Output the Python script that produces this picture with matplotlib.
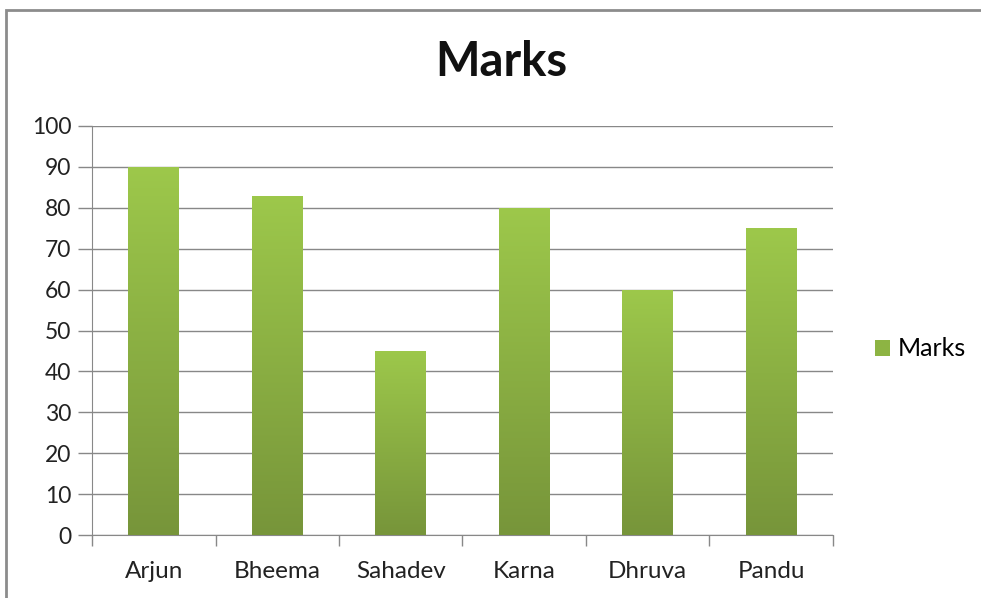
import matplotlib
matplotlib.use("Agg")
import matplotlib.pyplot as plt
import numpy as np
from matplotlib.patches import Rectangle
from matplotlib.colors import LinearSegmentedColormap

names = ["Arjun", "Bheema", "Sahadev", "Karna", "Dhruva", "Pandu"]
marks = [90, 83, 45, 80, 60, 75]
yticks = [0, 10, 20, 30, 40, 50, 60, 70, 80, 90, 100]

plt.rcParams['font.family'] = ['Lato', 'DejaVu Sans']

fig = plt.figure(figsize=(9.81, 5.98), dpi=100)
W, H = 981, 598
ax = fig.add_axes([92 / W, 1 - 535 / H, (833 - 92) / W, (535 - 126) / H])

x = np.arange(len(names))
bars = ax.bar(x, marks, width=0.41, color='#8db443', zorder=2)

cmap = LinearSegmentedColormap.from_list('g', ['#77953a', '#9dc84b'])
grad = np.linspace(0, 1, 256).reshape(-1, 1)
for b in bars:
    x0, w, h = b.get_x(), b.get_width(), b.get_height()
    im = ax.imshow(grad, cmap=cmap, origin='lower', aspect='auto',
                   extent=[x0, x0 + w, 0, h], zorder=3)
    im.set_clip_path(b)

ax.set_xlim(-0.5, len(names) - 0.5)
ax.set_ylim(0, 100)
ax.set_yticks(yticks)
ax.set_xticks(x)
ax.set_xticklabels(names)
ax.set_xticks(np.arange(-0.5, len(names), 1), minor=True)
ax.tick_params(axis='x', which='major', length=0, pad=19, labelsize=17.5, colors='#222222')
ax.tick_params(axis='x', which='minor', length=8, width=1, color='#888888')
ax.tick_params(axis='y', length=10, width=1, color='#888888', labelsize=16.5, pad=5, labelcolor='#222222')
ax.grid(axis='y', color='#888888', linewidth=1, zorder=1)
ax.set_axisbelow(True)
for s in ['top', 'right']:
    ax.spines[s].set_visible(False)
ax.spines['left'].set_color('#888888')
ax.spines['bottom'].set_color('#888888')
ax.set_xlim(-0.5, len(names) - 0.5)

handle = Rectangle((0, 0), 1, 1, facecolor='#8db443')
fig.legend([handle], ['Marks'], loc='center left', bbox_to_anchor=(862 / W, 1 - 349 / H),
           frameon=False, fontsize=18, handlelength=0.6, handleheight=0.6,
           handletextpad=0.35, borderpad=0)

fig.text(501 / W, 1 - 62 / H, 'Marks', ha='center', va='center', fontsize=34,
         fontweight='bold', color='#111111')

fig.patches.append(Rectangle((6 / W, -0.1), 1.2, 1 - 10 / H + 0.1, transform=fig.transFigure,
                             fill=False, edgecolor='#8c8c8c', linewidth=2))

fig.savefig('out.png', dpi=100)
